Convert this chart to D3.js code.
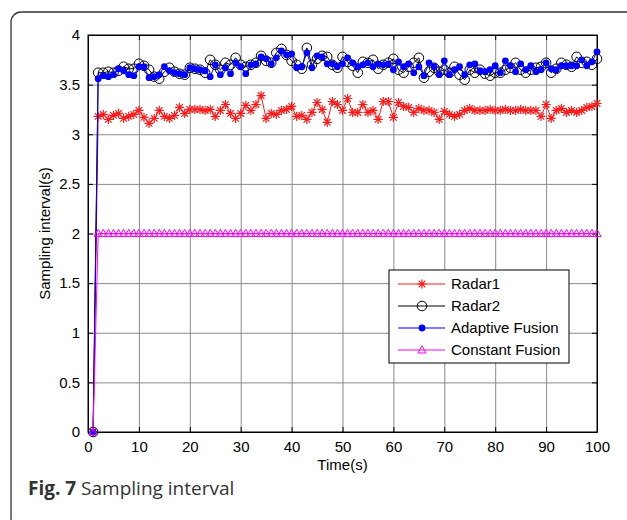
<!DOCTYPE html>
<html lang="en">
<head>
<meta charset="UTF-8">
<title>Sampling interval</title>
<script src="https://d3js.org/d3.v7.min.js"></script>
<style>
    body { margin: 0; background: #fff; }
    .tick text { font: 15px "Liberation Sans", Arial, sans-serif; fill: #000; }
    .grid line { stroke: #8a8a8a; stroke-width: 1px; }
    .grid path { display: none; }
</style>
</head>
<body>
<div id="chart"></div>
<script>
// time in seconds
const time = [1,2,3,4,5,6,7,8,9,10,11,12,13,14,15,16,17,18,19,20,
    21,22,23,24,25,26,27,28,29,30,31,32,33,34,35,36,37,38,39,40,
    41,42,43,44,45,46,47,48,49,50,51,52,53,54,55,56,57,58,59,60,
    61,62,63,64,65,66,67,68,69,70,71,72,73,74,75,76,77,78,79,80,
    81,82,83,84,85,86,87,88,89,90,91,92,93,94,95,96,97,98,99,100];

const radar1 = [0,3.18,3.20,3.15,3.19,3.21,3.16,3.18,3.20,3.24,
    3.17,3.11,3.16,3.24,3.18,3.16,3.19,3.27,3.21,3.25,
    3.25,3.25,3.24,3.25,3.18,3.24,3.30,3.21,3.16,3.21,
    3.29,3.24,3.30,3.39,3.16,3.21,3.20,3.24,3.25,3.28,
    3.18,3.19,3.15,3.22,3.32,3.25,3.12,3.33,3.30,3.24,
    3.36,3.22,3.22,3.30,3.22,3.24,3.15,3.33,3.33,3.17,
    3.32,3.28,3.27,3.22,3.26,3.24,3.24,3.22,3.15,3.23,
    3.20,3.18,3.20,3.24,3.26,3.24,3.24,3.24,3.25,3.24,
    3.24,3.25,3.24,3.24,3.25,3.24,3.24,3.24,3.18,3.30,
    3.16,3.24,3.26,3.22,3.24,3.22,3.24,3.27,3.28,3.31];

const radar2 = [0,3.62,3.62,3.63,3.62,3.64,3.68,3.66,3.66,3.71,
    3.69,3.65,3.58,3.56,3.63,3.67,3.63,3.61,3.60,3.67,
    3.66,3.65,3.62,3.75,3.70,3.65,3.72,3.70,3.77,3.70,
    3.68,3.70,3.72,3.79,3.74,3.72,3.82,3.86,3.80,3.74,
    3.70,3.66,3.87,3.70,3.76,3.79,3.78,3.70,3.67,3.78,
    3.73,3.69,3.62,3.73,3.72,3.75,3.66,3.70,3.72,3.76,
    3.65,3.62,3.68,3.72,3.77,3.57,3.63,3.67,3.63,3.65,
    3.62,3.68,3.60,3.55,3.65,3.62,3.65,3.61,3.59,3.62,
    3.62,3.65,3.67,3.72,3.65,3.62,3.65,3.67,3.68,3.72,
    3.62,3.66,3.72,3.70,3.68,3.78,3.72,3.73,3.70,3.76];

const adaptiveFusion = [0,3.56,3.59,3.58,3.60,3.66,3.64,3.60,3.59,3.68,
    3.68,3.57,3.58,3.60,3.68,3.64,3.62,3.61,3.60,3.67,
    3.66,3.65,3.64,3.58,3.70,3.60,3.67,3.61,3.72,3.68,
    3.61,3.70,3.71,3.78,3.76,3.71,3.77,3.84,3.80,3.81,
    3.67,3.68,3.82,3.67,3.79,3.78,3.71,3.71,3.68,3.71,
    3.77,3.72,3.68,3.70,3.72,3.68,3.71,3.70,3.71,3.65,
    3.73,3.68,3.71,3.62,3.68,3.59,3.72,3.68,3.60,3.74,
    3.60,3.65,3.68,3.60,3.70,3.71,3.64,3.63,3.65,3.69,
    3.62,3.74,3.69,3.63,3.71,3.65,3.69,3.63,3.65,3.72,
    3.66,3.65,3.69,3.69,3.69,3.69,3.75,3.69,3.73,3.83];

const constantFusion = [0,2,2,2,2,2,2,2,2,2,2,2,2,2,2,2,2,2,2,2,
    2,2,2,2,2,2,2,2,2,2,2,2,2,2,2,2,2,2,2,2,
    2,2,2,2,2,2,2,2,2,2,2,2,2,2,2,2,2,2,2,2,
    2,2,2,2,2,2,2,2,2,2,2,2,2,2,2,2,2,2,2,2,
    2,2,2,2,2,2,2,2,2,2,2,2,2,2,2,2,2,2,2,2];

const xTicks = [0,10,20,30,40,50,60,70,80,90,100];
const yTicks = [0,0.5,1,1.5,2,2.5,3,3.5,4];
const seriesNames = ["Radar1", "Radar2", "Adaptive Fusion", "Constant Fusion"];

const width = 627, height = 520;
const plotLeft = 88, plotRight = 597, plotTop = 35, plotBottom = 432;

const svg = d3.select("#chart").append("svg")
    .attr("width", width)
    .attr("height", height);

svg.append("rect").attr("width", width).attr("height", height).attr("fill", "#fff");

// rounded frame around the figure
svg.append("rect")
    .attr("x", 11).attr("y", 12)
    .attr("width", 640).attr("height", 516)
    .attr("rx", 10)
    .attr("fill", "none")
    .attr("stroke", "#333")
    .attr("stroke-width", 1.3);

const x = d3.scaleLinear().domain([0, 100]).range([plotLeft, plotRight]);
const y = d3.scaleLinear().domain([0, 4]).range([plotBottom, plotTop]);

// grid
svg.append("g").attr("class", "grid")
    .attr("transform", `translate(0,${plotBottom})`)
    .call(d3.axisBottom(x).tickValues(xTicks).tickSize(-(plotBottom - plotTop)).tickFormat(""));
svg.append("g").attr("class", "grid")
    .attr("transform", `translate(${plotLeft},0)`)
    .call(d3.axisLeft(y).tickValues(yTicks).tickSize(-(plotRight - plotLeft)).tickFormat(""));

// axes with inward ticks
svg.append("g")
    .attr("transform", `translate(0,${plotBottom})`)
    .call(d3.axisBottom(x).tickValues(xTicks).tickSizeInner(-5).tickSizeOuter(0).tickPadding(9));
svg.append("g")
    .attr("transform", `translate(${plotLeft},0)`)
    .call(d3.axisLeft(y).tickValues(yTicks).tickSizeInner(-5).tickSizeOuter(0).tickPadding(8)
        .tickFormat(d3.format("")));
svg.append("g").attr("transform", `translate(0,${plotTop})`)
    .call(d3.axisTop(x).tickValues(xTicks).tickSizeInner(-5).tickSizeOuter(0).tickFormat(""));
svg.append("g").attr("transform", `translate(${plotRight},0)`)
    .call(d3.axisRight(y).tickValues(yTicks).tickSizeInner(-5).tickSizeOuter(0).tickFormat(""));
svg.selectAll(".domain").attr("stroke", "#000");
svg.selectAll(".tick line").filter(function () { return !this.closest(".grid"); }).attr("stroke", "#000");

svg.append("rect")
    .attr("x", plotLeft).attr("y", plotTop)
    .attr("width", plotRight - plotLeft).attr("height", plotBottom - plotTop)
    .attr("fill", "none").attr("stroke", "#000").attr("stroke-width", 1);

// axis titles
svg.append("text")
    .attr("x", (plotLeft + plotRight) / 2).attr("y", 470)
    .attr("text-anchor", "middle")
    .style("font", '15px "Liberation Sans", Arial, sans-serif')
    .text("Time(s)");
svg.append("text")
    .attr("transform", `translate(50,${(plotTop + plotBottom) / 2}) rotate(-90)`)
    .attr("text-anchor", "middle")
    .style("font", '15px "Liberation Sans", Arial, sans-serif')
    .text("Sampling interval(s)");

// markers
const starPath = "M-4.6,0H4.6M0,-4.6V4.6M-3.3,-3.3L3.3,3.3M-3.3,3.3L3.3,-3.3";
const triPath = "M0,-4.2L4,3L-4,3Z";

const series = [
    { name: seriesNames[0], values: radar1, color: "#ff1a1a", marker: "star" },
    { name: seriesNames[1], values: radar2, color: "#000000", marker: "circle" },
    { name: seriesNames[2], values: adaptiveFusion, color: "#0000ff", marker: "dot" },
    { name: seriesNames[3], values: constantFusion, color: "#ff00ff", marker: "triangle" }
];

function drawMarker(g, type, color) {
    if (type === "star") {
        g.append("path").attr("d", starPath).attr("stroke", color).attr("stroke-width", 1.2).attr("fill", "none");
    } else if (type === "circle") {
        g.append("circle").attr("r", 4.8).attr("stroke", color).attr("stroke-width", 1).attr("fill", "none");
    } else if (type === "dot") {
        g.append("circle").attr("r", 3.4).attr("fill", color);
    } else {
        g.append("path").attr("d", triPath).attr("stroke", color).attr("stroke-width", 1).attr("fill", "none");
    }
}

const line = d3.line().x((d, i) => x(time[i])).y(d => y(d));

series.forEach(s => {
    const g = svg.append("g");
    g.append("path")
        .attr("d", line(s.values))
        .attr("fill", "none")
        .attr("stroke", s.color)
        .attr("stroke-width", 1);
    g.selectAll("g.m").data(s.values).enter().append("g")
        .attr("class", "m")
        .attr("transform", (d, i) => `translate(${x(time[i])},${y(d)})`)
        .each(function () { drawMarker(d3.select(this), s.marker, s.color); });
});

// legend
const legend = svg.append("g").attr("transform", "translate(389,270)");
legend.append("rect")
    .attr("width", 180).attr("height", 93)
    .attr("fill", "#fff").attr("stroke", "#000").attr("stroke-width", 1);
series.forEach((s, i) => {
    const row = legend.append("g").attr("transform", `translate(0,${14 + i * 22})`);
    row.append("line").attr("x1", 9).attr("x2", 56).attr("stroke", s.color).attr("stroke-width", 1);
    drawMarker(row.append("g").attr("transform", "translate(33,0)"), s.marker, s.color);
    row.append("text")
        .attr("x", 62).attr("dy", "0.35em")
        .style("font", '15px "Liberation Sans", Arial, sans-serif')
        .text(s.name);
});

// caption
const caption = svg.append("text")
    .attr("x", 28).attr("y", 495)
    .style("font", '19px "Open Sans", sans-serif')
    .attr("fill", "#333");
caption.append("tspan").attr("font-weight", "bold").text("Fig. 7");
caption.append("tspan").text(" Sampling interval");
</script>
</body>
</html>
